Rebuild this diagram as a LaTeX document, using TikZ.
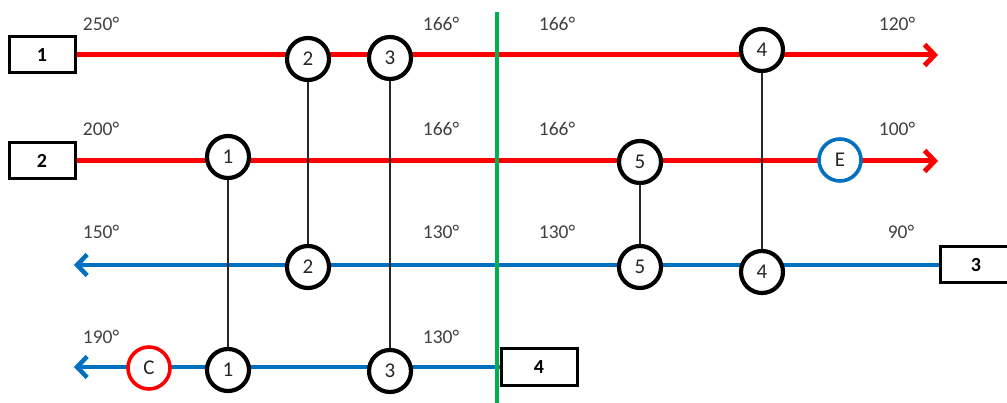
\documentclass[tikz,border=0pt]{standalone}
\usepackage{fontspec}
\setmainfont{Carlito}
\usetikzlibrary{arrows.meta,backgrounds}
\definecolor{hotred}{RGB}{255,0,0}
\definecolor{coldblue}{RGB}{0,112,192}
\definecolor{pinchgreen}{RGB}{0,176,80}
\definecolor{labelgray}{RGB}{64,64,64}
\begin{document}
\begin{tikzpicture}[x=1pt,y=-1pt,
  stream/.style={line width=5pt,line cap=butt},
  hotline/.style={stream,draw=hotred,-{Straight Barb[length=10pt,width=21pt]}},
  coldline/.style={stream,draw=coldblue,line width=4.5pt,-{Straight Barb[length=10pt,width=21pt]}},
  streambox/.style={draw=black,line width=3pt,fill=white,minimum width=66pt,minimum height=36pt,inner sep=0pt,font=\fontsize{20}{20}\selectfont\bfseries},
  hx/.style={circle,draw=black,line width=4.2pt,fill=white,minimum size=42pt,inner sep=0pt,font=\fontsize{21}{21}\selectfont,text=black!85},
  utility/.style={hx,line width=3.6pt},
  temp/.style={font=\fontsize{19.5}{19.5}\selectfont,text=labelgray,inner sep=0pt},
  match/.style={draw=black!85,line width=1.3pt}
]
\useasboundingbox (0,0) rectangle (1007,403);

% stream boxes
\node[streambox] (s1) at (42,55) {1};
\node[streambox] (s2) at (42,161) {2};
\node[streambox,minimum width=72pt] (s3) at (976,265) {3};
\node[streambox,minimum width=76pt] (s4) at (539,367) {4};

% free ends of the streams
\coordinate (e1) at (938,55);
\coordinate (e2) at (938,161);
\coordinate (e3) at (74,265);
\coordinate (e4) at (74,367);
\coordinate (g1) at (497,12);
\coordinate (g2) at (497,403);

% exchangers and utilities
\node[hx] (h2a) at (308,59) {2};
\node[hx] (h3a) at (390,58) {3};
\node[hx] (h4a) at (762,50) {4};
\node[hx] (h1a) at (228,157) {1};
\node[hx] (h5a) at (640,162) {5};
\node[utility,draw=coldblue] (E) at (840,160) {E};
\node[hx] (h2b) at (308,267) {2};
\node[hx] (h5b) at (640,267) {5};
\node[hx] (h4b) at (762,272) {4};
\node[utility,draw=hotred] (C) at (149,368) {C};
\node[hx] (h1b) at (228,370) {1};
\node[hx] (h3b) at (390,371) {3};

% streams and pinch line behind the exchangers
\begin{scope}[on background layer]
  \draw[hotline] (s1.east) -- (e1);
  \draw[hotline] (s2.east) -- (e2);
  \draw[coldline] (s3.west) -- (e3);
  \draw[coldline] (s4.west) -- (e4);
  \draw[draw=pinchgreen,line width=4pt] (g1) -- (g2);
  \draw[match] (h1a) -- (h1b);
  \draw[match] (h2a) -- (h2b);
  \draw[match] (h3a) -- (h3b);
  \draw[match] (h4a) -- (h4b);
  \draw[match] (h5a) -- (h5b);
\end{scope}

% temperatures
\node[temp] (t1a) at (101,24) {250°};
\node[temp] (t1b) at (441,24) {166°};
\node[temp] (t1c) at (557,24) {166°};
\node[temp] (t1d) at (897,24) {120°};
\node[temp] (t2a) at (101,129) {200°};
\node[temp] (t2b) at (441,129) {166°};
\node[temp] (t2c) at (557,129) {166°};
\node[temp] (t2d) at (897,129) {100°};
\node[temp] (t3a) at (101,232) {150°};
\node[temp] (t3b) at (441,232) {130°};
\node[temp] (t3c) at (557,232) {130°};
\node[temp] (t3d) at (901,232) {90°};
\node[temp] (t4a) at (101,337) {190°};
\node[temp] (t4b) at (441,337) {130°};
\end{tikzpicture}
\end{document}
